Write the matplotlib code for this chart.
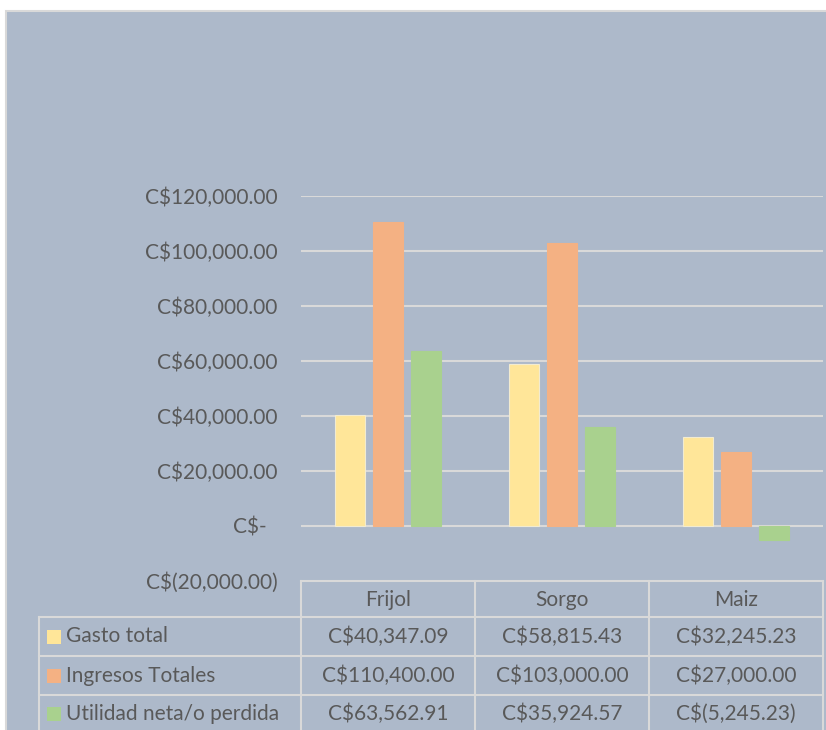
import matplotlib
matplotlib.use("Agg")
import matplotlib.pyplot as plt
from matplotlib.patches import Rectangle
from matplotlib.ticker import FuncFormatter
import numpy as np

categories = ["Frijol", "Sorgo", "Maiz"]
series_names = ["Gasto total", "Ingresos Totales", "Utilidad neta/o perdida"]
gasto_total = [40347.09, 58815.43, 32245.23]
ingresos_totales = [110400.00, 103000.00, 27000.00]
utilidad_neta = [63562.91, 35924.57, -5245.23]
series_values = [gasto_total, ingresos_totales, utilidad_neta]
series_colors = ["#FFE699", "#F4B183", "#A9D18E"]
y_ticks = [-20000, 0, 20000, 40000, 60000, 80000, 100000, 120000]

BG = "#ADB9CA"
GRID = "#D9D9D9"
TEXT = "#595959"
FONT = ["Lato", "DejaVu Sans"]
FS = 15

W, H = 826, 730


def money(v, pos=None):
    if abs(v) < 0.005:
        return "C$-  "
    s = f"{abs(v):,.2f}"
    return f"C$({s})" if v < 0 else f"C${s}"


def fx(px):
    return px / W


def fy(py):
    return 1 - py / H


fig = plt.figure(figsize=(W / 100, H / 100), dpi=100)
fig.patch.set_facecolor("white")
fig.patches.append(Rectangle((fx(6), fy(740)), fx(840), 729 / H, transform=fig.transFigure,
                             facecolor=BG, edgecolor=GRID, linewidth=1.5, zorder=-5))

left, right, top, bottom = 301, 823, 196, 581
ax = fig.add_axes([fx(left), fy(bottom), fx(right - left), (bottom - top) / H])
ax.set_facecolor("none")

x = np.arange(len(categories))
bar_w = 0.172
step = 0.221
for i, (vals, col) in enumerate(zip(series_values, series_colors)):
    ec = "#F2EBD0" if i == 0 else col
    ax.bar(x + (i - 1) * step, vals, width=bar_w, color=col, edgecolor=ec,
           linewidth=0.8, zorder=3)

ax.set_xlim(-0.5, len(categories) - 0.5)
ax.set_ylim(-20000, 120000)
ax.set_yticks(y_ticks)
ax.yaxis.set_major_formatter(FuncFormatter(money))
for t in y_ticks[1:]:
    ax.axhline(t, color=GRID, linewidth=1.5, zorder=1)
ax.tick_params(axis="y", length=0, pad=17, labelcolor=TEXT, labelsize=FS)
ax.set_xticks([])
for lab in ax.get_yticklabels():
    lab.set_fontfamily(FONT)
for s in ax.spines.values():
    s.set_visible(False)

# data table
col_edges = [left + (right - left) * k / len(categories) for k in range(len(categories) + 1)]
row_edges = [581, 617, 656, 695, 740]
label_left = 39
lw = 1.5


def hline(py, x0, x1):
    fig.add_artist(plt.Line2D([fx(x0), fx(x1)], [fy(py), fy(py)], transform=fig.transFigure,
                              color=GRID, linewidth=lw))


def vline(px, y0, y1):
    fig.add_artist(plt.Line2D([fx(px), fx(px)], [fy(y0), fy(y1)], transform=fig.transFigure,
                              color=GRID, linewidth=lw))


hline(row_edges[0], col_edges[0], col_edges[-1])
for py in row_edges[1:4]:
    hline(py, label_left, col_edges[-1])
vline(label_left, row_edges[1], row_edges[-1])
for px in col_edges:
    vline(px, row_edges[0], row_edges[-1])

for k, cat in enumerate(categories):
    cx = (col_edges[k] + col_edges[k + 1]) / 2
    cy = (row_edges[0] + row_edges[1]) / 2 + 1
    fig.text(fx(cx), fy(cy), cat, ha="center", va="center", color=TEXT, fontsize=FS, family=FONT)

for r, (name, vals, col) in enumerate(zip(series_names, series_values, series_colors)):
    cy = (row_edges[r + 1] + row_edges[r + 2]) / 2
    if r == 2:
        cy = row_edges[3] + 19
    fig.patches.append(Rectangle((fx(47), fy(cy + 7)), fx(14), 14 / H, transform=fig.transFigure,
                                 facecolor=col, edgecolor="none"))
    fig.text(fx(66), fy(cy), name, ha="left", va="center", color=TEXT, fontsize=FS, family=FONT)
    for k, v in enumerate(vals):
        cx = (col_edges[k] + col_edges[k + 1]) / 2
        fig.text(fx(cx), fy(cy), money(v), ha="center", va="center", color=TEXT,
                 fontsize=FS, family=FONT)

fig.savefig("out.png", dpi=100)
